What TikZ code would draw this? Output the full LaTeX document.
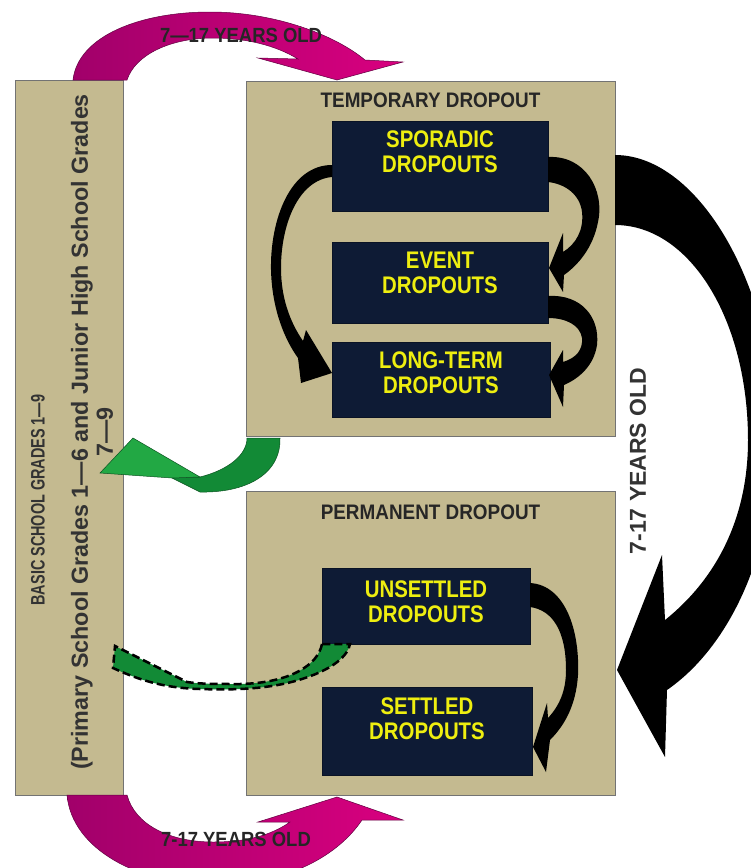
\documentclass[tikz,border=0pt]{standalone}
\usepackage{fontspec}
\usepackage{graphicx}
\setmainfont{Liberation Sans}
\newfontfamily\headfont[FakeStretch=0.9]{Liberation Sans Bold}
\newfontfamily\dropfont[FakeStretch=0.85]{Liberation Sans Bold}
\newfontfamily\sidefont{Liberation Sans Bold}
\usetikzlibrary{positioning}
\definecolor{tanbg}{HTML}{C4BA90}
\definecolor{navy}{HTML}{0E1B35}
\definecolor{dropyellow}{HTML}{EEEE10}
\definecolor{magdark}{HTML}{A1006A}
\definecolor{maglight}{HTML}{D9007F}
\definecolor{greenlight}{HTML}{22A844}
\definecolor{greendark}{HTML}{128A36}

\begin{document}
\begin{tikzpicture}[x=1pt, y=-1pt,
  panel/.style={draw=black!55, fill=tanbg, line width=0.8pt, inner sep=0pt},
  dropbox/.style={fill=navy, draw=navy!70!black, inner sep=0pt},
  droptext/.style={text=dropyellow, align=center, inner sep=0pt, font=\dropfont\fontsize{24}{25}\selectfont},
  heading/.style={anchor=north, inner sep=0pt, text=black!85, font=\headfont\fontsize{21}{23}\selectfont},
  agelabel/.style={inner sep=0pt, text=black!85, font=\headfont\fontsize{20.5}{22}\selectfont},
  sidetext/.style={rotate=90, inner sep=0pt, text=black!80},
  curlyarr/.style={fill=black},
  magarr/.style={left color=magdark, right color=maglight, draw=magdark!60!black, line width=0.5pt}
]
\useasboundingbox (0,0) rectangle (751,868);
\clip (0,0) rectangle (751,868);
\fill[white] (0,0) rectangle (751,868);

% panels
\node[panel, minimum width=108, minimum height=715] (basic) at (69,437.5) {};
\node[panel, minimum width=369, minimum height=355] (temp) at (430.5,258.5) {};
\node[panel, minimum width=369, minimum height=304] (perm) at (430.5,643) {};
\node[heading, below=12pt of temp.north] (temptitle) {TEMPORARY DROPOUT};
\node[heading, below=14pt of perm.north] (permtitle) {PERMANENT DROPOUT};

% dropout kinds
\node[dropbox, minimum width=216, minimum height=90] (sporadic) at (440,166) {};
\node[dropbox, minimum width=216, minimum height=81] (event) at (440,282.5) {};
\node[dropbox, minimum width=218, minimum height=75] (longterm) at (441,379.5) {};
\node[dropbox, minimum width=208, minimum height=76] (unsettled) at (426,606) {};
\node[dropbox, minimum width=210, minimum height=88] (settled) at (427,731) {};
\node[droptext] at ([yshift=14pt]sporadic.center) {SPORADIC\\DROPOUTS};
\node[droptext] at ([yshift=9.5pt]event.center) {EVENT\\DROPOUTS};
\node[droptext] at ([yshift=6.5pt]longterm.center) {LONG-TERM\\DROPOUTS};
\node[droptext] at ([yshift=4pt]unsettled.center) {UNSETTLED\\DROPOUTS};
\node[droptext] at ([yshift=12pt]settled.center) {SETTLED\\DROPOUTS};

% curved arrows inside the panels
\fill[curlyarr] (548,157) .. controls (585,155) and (605,190) .. (598,222) .. controls (593,248) and (578,265) .. (564,275)
  -- (563,292) -- (549,268) -- (563,233) -- (563,252) .. controls (576,244) and (584,230) .. (582,212)
  .. controls (580,195) and (566,184) .. (548,182) -- cycle;
\fill[curlyarr] (548,296) .. controls (582,294) and (600,318) .. (597,345) .. controls (594,365) and (580,378) .. (564,385)
  -- (563,407) -- (549,375) -- (563,350) -- (563,362) .. controls (576,358) and (583,350) .. (582,338)
  .. controls (580,325) and (566,318) .. (548,318) -- cycle;
\fill[curlyarr] (332,165) .. controls (290,165) and (270,220) .. (271,270) .. controls (272,310) and (285,340) .. (298,358)
  -- (301,383) -- (332,373) -- (306,330) -- (303,341) .. controls (290,322) and (281,298) .. (281,268)
  .. controls (281,225) and (298,180) .. (332,177) -- cycle;
\fill[curlyarr] (530,583) .. controls (565,585) and (580,630) .. (578,675) .. controls (576,705) and (565,725) .. (550,740)
  -- (546,772) -- (533,747) -- (547,703) -- (548,718) .. controls (560,705) and (566,690) .. (566,670)
  .. controls (566,630) and (552,610) .. (530,607) -- cycle;

% big black arrow temp -> perm
\fill[curlyarr] (615,155) .. controls (700,155) and (775,290) .. (775,430) .. controls (775,560) and (725,650) .. (667,690)
  -- (665,757) -- (617,670) -- (662,555) -- (665,620) .. controls (715,580) and (748,520) .. (748,440)
  .. controls (748,320) and (690,225) .. (615,225) -- cycle;

% magenta arrows basic -> panels
\shade[magarr] (73,80) .. controls (78,36) and (140,12) .. (210,12) .. controls (275,12) and (335,35) .. (365,60)
  -- (403,62) -- (337,80) -- (258,58) -- (298,59) .. controls (275,45) and (245,38) .. (213,38)
  .. controls (170,38) and (135,55) .. (127,80) -- cycle;
\shade[magarr] (67,795) .. controls (72,850) and (140,885) .. (215,885) .. controls (280,885) and (335,860) .. (362,820)
  -- (403,820) -- (337,797) -- (258,822) -- (290,822) .. controls (270,836) and (245,842) .. (213,842)
  .. controls (170,842) and (135,825) .. (127,795) -- cycle;

% green arrows back to school
\filldraw[fill=greendark, draw=greendark!60!black, line width=0.5pt] (247,438) -- (280,438) .. controls (281,475) and (245,493) .. (200,492)
  -- (172,478) -- (200,477) .. controls (228,470) and (247,455) .. (247,438) -- cycle;
\filldraw[fill=greenlight, draw=greendark!60!black, line width=0.5pt] (100,473) -- (133,438) -- (200,477) -- (172,478) -- cycle;
\filldraw[fill=greendark, draw=black, line width=2.5pt, dash pattern=on 8pt off 4pt] (322,644) .. controls (318,665) and (290,683) .. (240,684)
  .. controls (215,684) and (200,684) .. (187,682) -- (115,646) -- (113,668) .. controls (135,678) and (160,688) .. (200,689)
  .. controls (230,690) and (270,690) .. (305,678) .. controls (335,668) and (348,655) .. (350,644) -- cycle;

% texts
\node[agelabel] (agetop) at (241,35) {7—17 YEARS OLD};
\node[agelabel] (agebottom) at (236,839) {7-17 YEARS OLD};
\node[sidetext, font=\sidefont\fontsize{23}{25}\selectfont] (ageright) at (638,461) {7-17 YEARS OLD};
\node[sidetext, font=\sidefont\fontsize{19.5}{21}\selectfont] (basictitle) at (38,500) {\scalebox{0.74}[1]{BASIC SCHOOL GRADES 1—9}};
\node[sidetext, align=center, font=\sidefont\fontsize{23.3}{25}\selectfont] (basicnote) at (92,432) {(Primary School Grades 1—6 and Junior High School Grades\\7—9};
\end{tikzpicture}
\end{document}
